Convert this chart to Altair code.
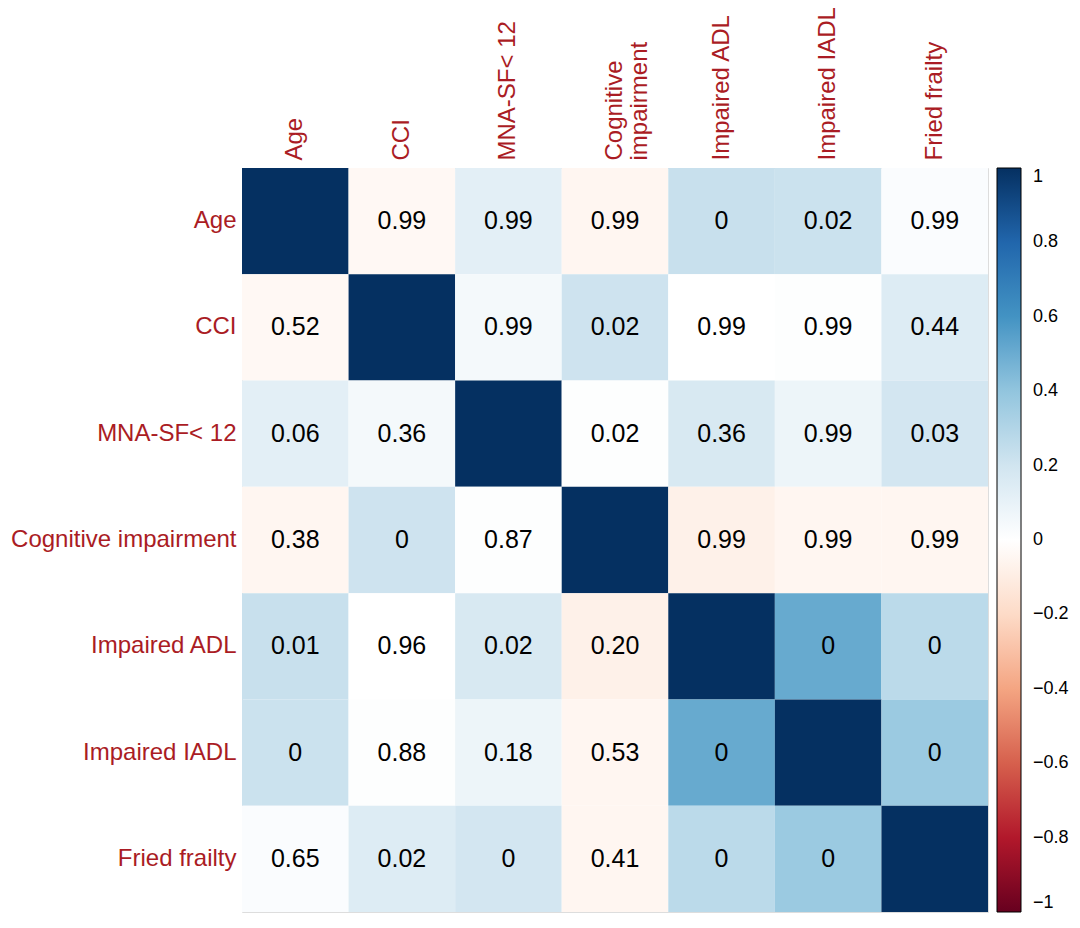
import altair as alt
import pandas as pd

variables = ["Age", "CCI", "MNA-SF< 12", "Cognitive impairment",
             "Impaired ADL", "Impaired IADL", "Fried frailty"]

# correlation coefficients (colour)
r_matrix = [
    [1.00, -0.04, 0.12, -0.05, 0.23, 0.22, 0.02],
    [-0.04, 1.00, 0.05, 0.21, 0.00, 0.01, 0.15],
    [0.12, 0.05, 1.00, 0.01, 0.17, 0.08, 0.19],
    [-0.05, 0.21, 0.01, 1.00, -0.08, -0.05, -0.05],
    [0.23, 0.00, 0.17, -0.08, 1.00, 0.51, 0.27],
    [0.22, 0.01, 0.08, -0.05, 0.51, 1.00, 0.37],
    [0.02, 0.15, 0.19, -0.05, 0.27, 0.37, 1.00],
]

# p-values printed in the cells
p_matrix = [
    ["", "0.99", "0.99", "0.99", "0", "0.02", "0.99"],
    ["0.52", "", "0.99", "0.02", "0.99", "0.99", "0.44"],
    ["0.06", "0.36", "", "0.02", "0.36", "0.99", "0.03"],
    ["0.38", "0", "0.87", "", "0.99", "0.99", "0.99"],
    ["0.01", "0.96", "0.02", "0.20", "", "0", "0"],
    ["0", "0.88", "0.18", "0.53", "0", "", "0"],
    ["0.65", "0.02", "0", "0.41", "0", "0", ""],
]

color_domain = [-1, -0.8, -0.6, -0.4, -0.2, 0, 0.2, 0.4, 0.6, 0.8, 1]
color_range = ["#67001F", "#B2182B", "#D6604D", "#F4A582", "#FDDBC7", "#FFFFFF",
               "#D1E5F0", "#92C5DE", "#4393C3", "#2166AC", "#053061"]
legend_ticks = [1, 0.8, 0.6, 0.4, 0.2, 0, -0.2, -0.4, -0.6, -0.8, -1]

rows = []
for i, rv in enumerate(variables):
    for j, cv in enumerate(variables):
        rows.append({"row": rv, "col": cv, "r": r_matrix[i][j], "p": p_matrix[i][j]})
df = pd.DataFrame(rows)

label_color = "#AA1C24"
FONT = "Liberation Sans"

x_enc = alt.X("col:N", sort=variables, title=None,
              scale=alt.Scale(paddingInner=0, paddingOuter=0),
              axis=alt.Axis(orient="top", labelAngle=270, labelAlign="left",
                            labelBaseline="middle", labelPadding=8, labelLimit=0,
                            labelFontSize=24, labelColor=label_color, labelFont=FONT,
                            labelLineHeight=25,
                            labelExpr="datum.label == 'Cognitive impairment' ? ['Cognitive', 'impairment'] : datum.label",
                            domain=False, ticks=False, grid=False))
y_enc = alt.Y("row:N", sort=variables, title=None,
              scale=alt.Scale(paddingInner=0, paddingOuter=0),
              axis=alt.Axis(labelPadding=6, labelFontSize=24, labelColor=label_color,
                            labelLimit=0, labelFont=FONT,
                            domain=False, ticks=False, grid=False))

rects = alt.Chart(df).mark_rect().encode(
    x=x_enc,
    y=y_enc,
    color=alt.Color("r:Q",
                    scale=alt.Scale(domain=color_domain, range=color_range, interpolate="rgb"),
                    legend=alt.Legend(title=None, orient="right", offset=9,
                                      gradientLength=744, gradientThickness=24,
                                      gradientStrokeColor="black", gradientStrokeWidth=1,
                                      values=legend_ticks, format=".1~f",
                                      labelExpr="datum.value >= 0 ? '\u2002' + datum.label : datum.label",
                                      labelFontSize=18, labelFont=FONT, labelColor="black",
                                      labelAlign="left", labelOffset=12, labelLimit=0)),
)

texts = alt.Chart(df).transform_filter("datum.p != ''").mark_text(
    fontSize=25, font=FONT, color="black"
).encode(
    x=alt.X("col:N", sort=variables),
    y=alt.Y("row:N", sort=variables),
    text="p:N",
)

chart = alt.layer(rects, texts).properties(
    width=746, height=744,
    autosize=alt.AutoSizeParams(type="none"),
    padding={"left": 234, "top": 160, "right": 84, "bottom": 8},
).configure_view(stroke=None).configure(background="white")

chart.save("out.html", embed_options={"renderer": "svg", "actions": False})
